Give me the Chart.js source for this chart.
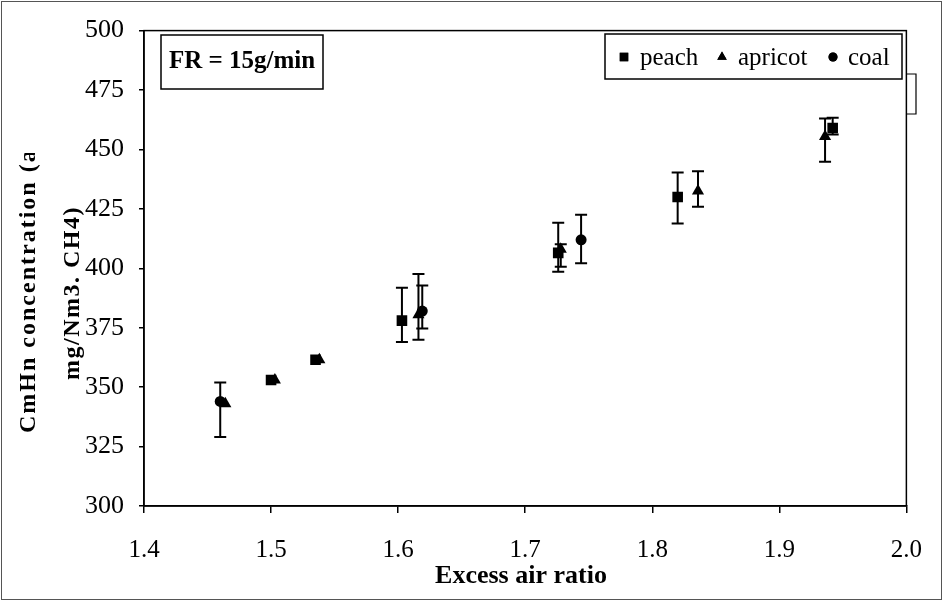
<!DOCTYPE html>
<html>
<head>
<meta charset="utf-8">
<title>CmHn concentration vs excess air ratio</title>
<script src="https://cdn.jsdelivr.net/npm/chart.js@4.4.1/dist/chart.umd.min.js"></script>
<style>
  html, body { margin: 0; padding: 0; background: #fff; }
</style>
</head>
<body>
<canvas id="cmhnChart" width="944" height="603"></canvas>
<script>
// axis ranges
const xMin = 1.4, xMax = 2.0, xStep = 0.1;
const yMin = 300, yMax = 500, yStep = 25;

// peach
const peachX  = [1.500, 1.535, 1.603, 1.726, 1.820, 1.942];
const peachY  = [353, 361.5, 378, 406.5, 430, 459];
const peachLo = [null, null, 369, 398.6, 418.8, 456.3];
const peachHi = [null, null, 391.8, 419.2, 440.3, 463.3];

// apricot
const apricotX  = [1.464, 1.503, 1.538, 1.616, 1.728, 1.836, 1.936];
const apricotY  = [343, 353, 361.5, 380.5, 408, 432.5, 455.5];
const apricotLo = [null, null, null, 369.9, 400.7, 425.9, 444.8];
const apricotHi = [null, null, null, 397.6, 410.1, 440.8, 463];

// coal
const coalX  = [1.46, 1.619, 1.744];
const coalY  = [344, 382, 412];
const coalLo = [329, 374.7, 402.1];
const coalHi = [352, 392.8, 422.5];

const SERIF = '"Liberation Serif", "Times New Roman", serif';

function pts(xs, ys, lo, hi) {
  return xs.map((x, i) => ({ x: x, y: ys[i], lo: lo[i], hi: hi[i] }));
}

// vertical error bars with caps, positioned through the scales
const errorBars = {
  id: 'errorBars',
  beforeDatasetsDraw(chart) {
    const ctx = chart.ctx;
    const xs = chart.scales.x, ys = chart.scales.y;
    ctx.save();
    ctx.strokeStyle = '#000';
    ctx.lineWidth = 2;
    chart.data.datasets.forEach(ds => {
      ds.data.forEach(p => {
        if (p.lo == null) return;
        const px = xs.getPixelForValue(p.x);
        const top = ys.getPixelForValue(p.hi);
        const bot = ys.getPixelForValue(p.lo);
        ctx.beginPath();
        ctx.moveTo(px, top); ctx.lineTo(px, bot);
        ctx.moveTo(px - 6, top); ctx.lineTo(px + 6, top);
        ctx.moveTo(px - 6, bot); ctx.lineTo(px + 6, bot);
        ctx.stroke();
      });
    });
    ctx.restore();
  }
};

// plot frame, text boxes, axis titles and outer border
const decorations = {
  id: 'decorations',
  afterDraw(chart) {
    const ctx = chart.ctx;
    const a = chart.chartArea;
    ctx.save();
    ctx.strokeStyle = '#000';
    ctx.fillStyle = '#000';

    // plot area frame
    ctx.lineWidth = 1.5;
    ctx.strokeRect(a.left, a.top, a.right - a.left, a.bottom - a.top);

    // small box stub on the right edge
    ctx.lineWidth = 1.2;
    ctx.beginPath();
    ctx.moveTo(a.right, 74); ctx.lineTo(916, 74); ctx.lineTo(916, 114); ctx.lineTo(a.right, 114);
    ctx.stroke();

    // outer frame
    ctx.strokeStyle = '#555';
    ctx.lineWidth = 1;
    ctx.strokeRect(1.5, 1.5, 940, 598);
    ctx.strokeStyle = '#000';

    // FR annotation box
    ctx.lineWidth = 1.5;
    ctx.fillStyle = '#fff';
    ctx.fillRect(161, 35, 162, 54);
    ctx.strokeRect(161, 35, 162, 54);
    ctx.fillStyle = '#000';
    ctx.font = 'bold 25px ' + SERIF;
    ctx.textAlign = 'center';
    ctx.textBaseline = 'middle';
    ctx.fillText('FR = 15g/min', 242, 62);

    // legend box
    ctx.fillStyle = '#fff';
    ctx.fillRect(605, 34, 297, 45);
    ctx.strokeRect(605, 34, 297, 45);
    ctx.fillStyle = '#000';
    ctx.font = '25px ' + SERIF;
    ctx.textAlign = 'left';
    const items = [
      { mx: 624, tx: 640 },
      { mx: 722, tx: 738 },
      { mx: 833, tx: 848 }
    ];
    chart.data.datasets.forEach((ds, i) => {
      Chart.helpers.drawPoint(ctx, {
        pointStyle: ds.pointStyle, radius: ds.legendRadius, rotation: 0, borderWidth: 0
      }, items[i].mx, 57);
      ctx.fillStyle = '#000';
      ctx.fill();
      ctx.fillText(ds.label, items[i].tx, 58);
    });

    // x axis title
    ctx.font = 'bold 26px ' + SERIF;
    ctx.textAlign = 'center';
    ctx.fillText('Excess air ratio', 521, 576);

    // y axis title, two lines (first line clipped at its top)
    ctx.font = 'bold 24px ' + SERIF;
    ctx.letterSpacing = '2px';
    ctx.save();
    ctx.beginPath();
    ctx.rect(0, 153, 140, 440);
    ctx.clip();
    ctx.translate(29, 433);
    ctx.rotate(-Math.PI / 2);
    ctx.textAlign = 'left';
    ctx.fillText('CmHn concentration (as', 0, 0);
    ctx.restore();
    ctx.letterSpacing = '1.5px';
    ctx.save();
    ctx.translate(73, 293);
    ctx.rotate(-Math.PI / 2);
    ctx.textAlign = 'center';
    ctx.fillText('mg/Nm3. CH4)', 0, 0);
    ctx.restore();

    ctx.restore();
  }
};

new Chart(document.getElementById('cmhnChart'), {
  type: 'scatter',
  data: {
    datasets: [
      { label: 'peach', data: pts(peachX, peachY, peachLo, peachHi),
        pointStyle: 'rect', pointRadius: 7.5, legendRadius: 6 },
      { label: 'apricot', data: pts(apricotX, apricotY, apricotLo, apricotHi),
        pointStyle: 'triangle', pointRadius: 7, legendRadius: 5.5 },
      { label: 'coal', data: pts(coalX, coalY, coalLo, coalHi),
        pointStyle: 'circle', pointRadius: 5.5, legendRadius: 4.5 }
    ].map(ds => Object.assign(ds, {
      backgroundColor: '#000', borderColor: '#000', borderWidth: 0, pointHoverRadius: ds.pointRadius
    }))
  },
  options: {
    responsive: false,
    animation: false,
    events: [],
    layout: { padding: { left: 0, top: 26, right: 36, bottom: 0 } },
    plugins: { legend: { display: false }, tooltip: { enabled: false } },
    scales: {
      x: {
        type: 'linear', min: xMin, max: xMax,
        afterFit(scale) { scale.height = 97; },
        border: { display: true, color: '#000', width: 1.5 },
        grid: { display: true, drawOnChartArea: false, drawTicks: true, tickLength: 7, color: '#000', lineWidth: 1.5 },
        ticks: {
          stepSize: xStep, padding: 22, color: '#000', maxRotation: 0,
          font: { family: SERIF, size: 25 },
          callback: v => v.toFixed(1)
        }
      },
      y: {
        type: 'linear', min: yMin, max: yMax,
        afterFit(scale) { scale.width = 144; },
        border: { display: true, color: '#000', width: 1.5 },
        grid: { display: true, drawOnChartArea: false, drawTicks: true, tickLength: 5, color: '#000', lineWidth: 1.5 },
        ticks: {
          stepSize: yStep, padding: 15, color: '#000',
          font: { family: SERIF, size: 26 }
        }
      }
    }
  },
  plugins: [errorBars, decorations]
});
</script>
</body>
</html>
